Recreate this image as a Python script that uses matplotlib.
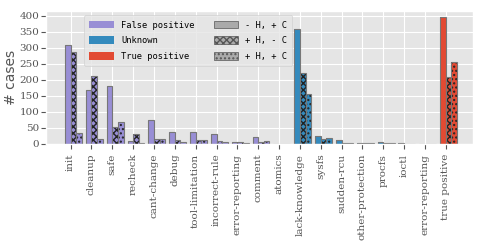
import numpy as np
import matplotlib
matplotlib.use('Agg')
import matplotlib.pyplot as plt
from matplotlib.patches import Patch
from matplotlib.ticker import MultipleLocator

plt.style.use('ggplot')
plt.rcParams['font.family'] = 'DejaVu Serif'

categories = ['init', 'cleanup', 'safe', 'recheck', 'cant-change', 'debug',
              'tool-limitation', 'incorrect-rule', 'error-reporting', 'comment',
              'atomics', 'lack-knowledge', 'sysfs', 'sudden-rcu',
              'other-protection', 'procfs', 'ioctl', 'error-reporting',
              'true positive']
kinds = ['fp'] * 11 + ['unk'] * 6 + ['tp'] * 2

no_h_c = [310, 167, 180, 8, 74, 37, 37, 32, 6, 21, 1,
          360, 25, 13, 2, 5, 3, 0, 395]
h_no_c = [288, 213, 53, 31, 15, 12, 12, 8, 6, 6, 0,
          220, 17, 4, 2, 2, 1, 0, 210]
h_c = [33, 15, 68, 3, 15, 6, 12, 6, 3, 8, 0,
       155, 20, 3, 2, 2, 0, 0, 256]

kind_colors = {'fp': '#988ED5', 'unk': '#348ABD', 'tp': '#E24A33'}
kind_labels = {'fp': 'False positive', 'unk': 'Unknown', 'tp': 'True positive'}

fig = plt.figure(figsize=(4.85, 2.42), dpi=100)
ax = fig.add_axes([0.094, 0.405, 0.881, 0.55])

x = np.arange(len(categories))
w = 0.27
colors = [kind_colors[k] for k in kinds]
for i, (vals, hatch) in enumerate([(no_h_c, None), (h_no_c, 'xxxxx'), (h_c, '....')]):
    pos = x + (i - 1) * w
    if hatch:
        ax.bar(pos, vals, w, align='edge', color=colors, hatch=hatch,
               edgecolor='#222222', linewidth=0)
    else:
        ax.bar(pos, vals, w, align='edge', color=colors, linewidth=0)
    ax.bar(pos, vals, w, align='edge', fill=False, edgecolor='#777777',
           linewidth=0.8)

ax.set_xlim(-1.2, 19.3)
ax.set_ylim(0, 415)
ax.yaxis.set_major_locator(MultipleLocator(50))
ax.set_xticks(x)
ax.set_xticklabels(categories, rotation=90)
ax.tick_params(axis='x', labelsize=7.5, colors='#555555')
ax.tick_params(axis='y', labelsize=7.5, colors='#555555', pad=1)
ax.set_ylabel('# cases', fontsize=10, labelpad=1, family='DejaVu Sans')

handles = [Patch(facecolor=kind_colors[k], label=kind_labels[k])
           for k in ['fp', 'unk', 'tp']]
handles += [Patch(facecolor='#aaaaaa', edgecolor='#555555', hatch=h, label=l)
            for h, l in [(None, '- H, + C'), ('xxxxx', '+ H, - C'),
                         ('....', '+ H, + C')]]
ax.legend(handles=handles, ncol=2, loc='upper left', bbox_to_anchor=(0.08, 1.0),
          prop={'family': 'DejaVu Sans Mono', 'size': 6.3}, columnspacing=2.2,
          handlelength=2.8, handleheight=1.0, labelspacing=0.75, borderpad=0.6)

fig.savefig('out.png', dpi=100)
